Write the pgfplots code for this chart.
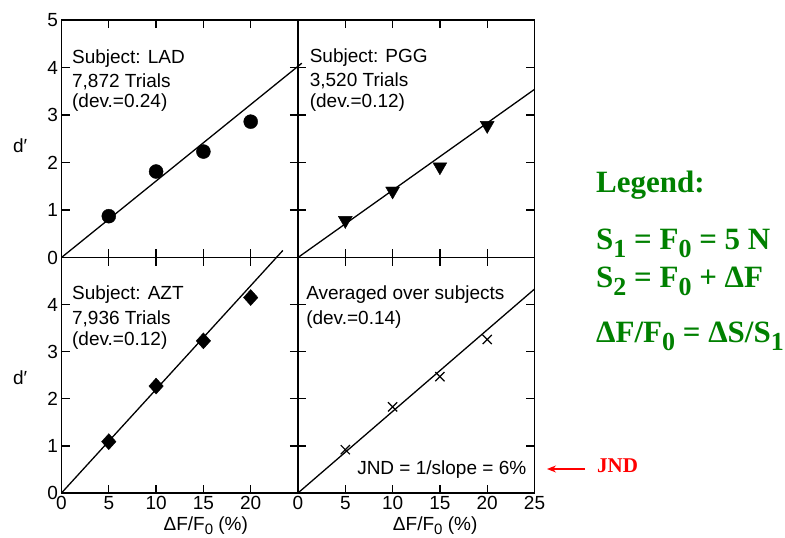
\documentclass[border=0pt]{standalone}
\usepackage{fontspec}
\setmainfont{Liberation Sans}
\newfontfamily\legfont{Liberation Serif}
\usepackage{pgfplots}
\pgfplotsset{compat=1.18}
\usetikzlibrary{arrows.meta}

\definecolor{leggreen}{RGB}{0,128,0}
\definecolor{jndred}{RGB}{255,0,0}

\newcommand{\lblfont}{\fontsize{19}{22}\selectfont}
\newcommand{\sub}[1]{\raisebox{-8pt}{\fontsize{26}{26}\selectfont #1}}
\newcommand{\xlab}{ΔF/F\raisebox{-4pt}{\fontsize{15}{15}\selectfont 0} (\%)}

% inward ticks on all four sides, drawn as short plot segments
\newcommand{\panelticks}{%
  \pgfplotsinvokeforeach{5,10,15,20}{%
    \addplot[tickln] coordinates {(##1,0) (##1,0.17)};
    \addplot[tickln] coordinates {(##1,4.83) (##1,5)};
  }%
  \pgfplotsinvokeforeach{1,2,3,4}{%
    \addplot[tickln] coordinates {(0,##1) (0.85,##1)};
    \addplot[tickln] coordinates {(24.15,##1) (25,##1)};
  }%
}

\pgfplotsset{
  panel/.style={
    scale only axis, width=236.5pt,
    xmin=0, xmax=25, ymin=0, ymax=5,
    xtick={0,5,...,25}, ytick={0,1,...,5},
    xticklabels={}, yticklabels={},
    tick align=inside, major tick length=0pt,
    axis line style={line width=1.5pt},
    tick label style={font=\lblfont},
    label style={font=\lblfont},
    ylabel style={rotate=-90, anchor=center},
    clip=false,
  },
  tickln/.style={black, line width=1.4pt, mark=none, forget plot},
  fitline/.style={black, line width=1.3pt, mark=none},
  dots/.style={only marks, black, mark options={solid, fill=black}},
}

\begin{document}
\begin{tikzpicture}
\useasboundingbox (0,0) rectangle (785pt,538pt);

% top left: LAD
\begin{axis}[panel, at={(61.5pt,280.5pt)}, anchor=south west, height=237.5pt,
  yticklabels={0,1,2,3,4,5},
  ylabel={d′}, ylabel style={at={(axis description cs:-0.175,0.47)}}]
  \panelticks
  \addplot[fitline] coordinates {(0,0) (25.4,4.09)};
  \addplot[dots, mark=*, mark size=7pt] coordinates {(5,0.87) (10,1.81) (15,2.23) (20,2.86)};
  \node[anchor=base west, font=\lblfont] at (axis description cs:0.03,0.815) {Subject: LAD};
  \node[anchor=base west, font=\lblfont] at (axis description cs:0.03,0.716) {7,872 Trials};
  \node[anchor=base west, font=\lblfont] at (axis description cs:0.03,0.630) {(dev.=0.24)};
\end{axis}

% top right: PGG
\begin{axis}[panel, at={(298pt,280.5pt)}, anchor=south west, height=237.5pt]
  \panelticks
  \addplot[fitline] coordinates {(0,0) (25,3.54)};
  \addplot[dots, mark=triangle*, mark size=8pt, mark options={rotate=180}]
    coordinates {(5,0.78) (10,1.40) (15,1.91) (20,2.78)};
  \node[anchor=base west, font=\lblfont] at (axis description cs:0.035,0.82) {Subject: PGG};
  \node[anchor=base west, font=\lblfont] at (axis description cs:0.035,0.718) {3,520 Trials};
  \node[anchor=base west, font=\lblfont] at (axis description cs:0.035,0.632) {(dev.=0.12)};
\end{axis}

% bottom left: AZT
\begin{axis}[panel, at={(61.5pt,45pt)}, anchor=south west, height=235.5pt,
  xticklabels={0,5,10,15,20,{}}, yticklabels={0,1,2,3,4,{}},
  xlabel={\xlab}, xlabel style={at={(axis description cs:0.61,-0.16)}, anchor=base},
  ylabel={d′}, ylabel style={at={(axis description cs:-0.175,0.49)}}]
  \panelticks
  \addplot[fitline] coordinates {(0,0) (23.4,5.15)};
  \addplot[dots, mark=diamond*, mark size=8pt, mark options={xscale=1.2}]
    coordinates {(5,1.09) (10,2.27) (15,3.23) (20,4.15)};
  \node[anchor=base west, font=\lblfont] at (axis description cs:0.03,0.82) {Subject: AZT};
  \node[anchor=base west, font=\lblfont] at (axis description cs:0.03,0.716) {7,936 Trials};
  \node[anchor=base west, font=\lblfont] at (axis description cs:0.03,0.625) {(dev.=0.12)};
\end{axis}

% bottom right: average
\begin{axis}[panel, at={(298pt,45pt)}, anchor=south west, height=235.5pt,
  xticklabels={0,5,10,15,20,25},
  xlabel={\xlab}, xlabel style={at={(axis description cs:0.58,-0.16)}, anchor=base}]
  \panelticks
  \addplot[fitline] coordinates {(0,0) (25,4.33)};
  \addplot[dots, mark=x, mark size=6.5pt, mark options={line width=1.2pt}]
    coordinates {(5,0.92) (10,1.83) (15,2.47) (20,3.26)};
  \node[anchor=base west, font=\lblfont] at (axis description cs:0.02,0.82) {Averaged over subjects};
  \node[anchor=base west, font=\lblfont] at (axis description cs:0.02,0.716) {(dev.=0.14)};
  \node[anchor=base east, font=\lblfont] at (axis description cs:0.98,0.08) {JND = 1/slope = 6\%};
\end{axis}

% legend text on the right
\begin{scope}[every node/.style={anchor=base west, inner sep=0pt, text=leggreen,
    font=\legfont\bfseries\fontsize{31}{31}\selectfont}]
  \node at (596pt,345pt) {Legend:};
  \node at (596pt,288pt) {S\sub{1} = F\sub{0} = 5 N};
  \node at (596pt,250pt) {S\sub{2} = F\sub{0} + ΔF};
  \node at (596pt,195pt) {ΔF/F\sub{0} = ΔS/S\sub{1}};
\end{scope}

\node[anchor=base west, inner sep=0pt, text=jndred,
  font=\legfont\bfseries\fontsize{21}{21}\selectfont] at (597pt,65pt) {JND};
\draw[jndred, line width=1.2pt, -{Stealth[length=9pt,width=7pt]}] (585pt,69pt) -- (547pt,69pt);
\end{tikzpicture}
\end{document}
